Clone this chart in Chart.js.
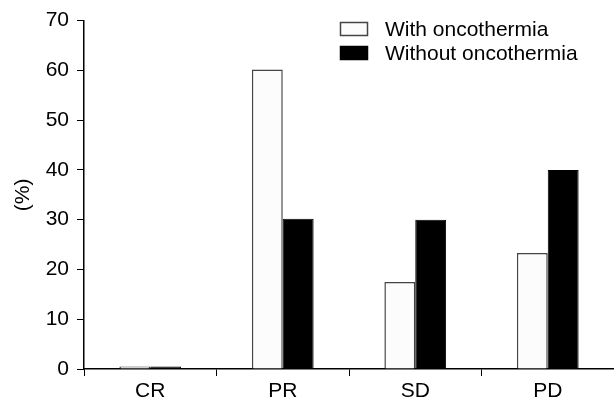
<!DOCTYPE html>
<html>
<head>
<meta charset="utf-8">
<script src="https://cdn.jsdelivr.net/npm/chart.js"></script>
<style>
  html, body { margin: 0; padding: 0; background: #fff; }
  #wrap { width: 614px; height: 403px; position: relative; }
</style>
</head>
<body>
<div id="wrap"><canvas id="responseChart"></canvas></div>
<script>
// Tumour response by group
const categories = ['CR', 'PR', 'SD', 'PD'];
const withOncothermia = [0.5, 60.2, 17.5, 23.3];
const withoutOncothermia = [0.5, 30.2, 30.0, 40.0];
const seriesLabels = ['With oncothermia', 'Without oncothermia'];
const yTicks = [0, 10, 20, 30, 40, 50, 60, 70];

const FONT = 'Arial, "Liberation Sans", sans-serif';

// Legend drawn inside the plot area, top right
const insideLegend = {
  id: 'insideLegend',
  afterDraw(chart) {
    const { ctx } = chart;
    ctx.save();
    ctx.font = '21px ' + FONT;
    ctx.textBaseline = 'middle';
    chart.data.datasets.forEach((ds, i) => {
      const y = 29 + i * 24;
      ctx.fillStyle = ds.backgroundColor;
      ctx.fillRect(340, y - 7, 28, 14);
      ctx.strokeStyle = ds.borderColor;
      ctx.lineWidth = 1.5;
      ctx.strokeRect(340.5, y - 6.5, 27, 13);
      ctx.fillStyle = '#000';
      ctx.fillText(ds.label, 385, y + 1);
    });
    ctx.restore();
  }
};

new Chart(document.getElementById('responseChart'), {
  type: 'bar',
  data: {
    labels: categories,
    datasets: [
      {
        label: seriesLabels[0],
        data: withOncothermia,
        backgroundColor: '#fcfcfc',
        borderColor: '#444',
        borderWidth: 1.5
      },
      {
        label: seriesLabels[1],
        data: withoutOncothermia,
        backgroundColor: '#000',
        borderColor: '#000',
        borderWidth: 1
      }
    ]
  },
  options: {
    responsive: true,
    maintainAspectRatio: false,
    animation: false,
    layout: { padding: { top: 5, right: 0, left: 0, bottom: 0 } },
    datasets: {
      bar: { categoryPercentage: 0.466, barPercentage: 1.0 }
    },
    scales: {
      x: {
        offset: true,
        grid: {
          offset: true,
          drawOnChartArea: false,
          drawTicks: true,
          tickLength: 7,
          color: '#000'
        },
        border: { display: true, color: '#000', width: 1.5 },
        ticks: { color: '#000', font: { family: FONT, size: 21 }, padding: 3 },
        afterFit(axis) { axis.height = 34; }
      },
      y: {
        min: 0,
        max: 70,
        afterBuildTicks(axis) { axis.ticks = yTicks.map(v => ({ value: v })); },
        grid: {
          drawOnChartArea: false,
          drawTicks: true,
          tickLength: 7,
          color: '#000'
        },
        border: { display: true, color: '#000', width: 1.5 },
        ticks: { color: '#000', font: { family: FONT, size: 21 }, padding: 8 },
        title: {
          display: true,
          text: '(%)',
          color: '#000',
          font: { family: FONT, size: 21 },
          padding: { top: 11, bottom: 0 }
        },
        afterFit(axis) { axis.width = 84; }
      }
    },
    plugins: {
      legend: { display: false },
      tooltip: { enabled: false }
    }
  },
  plugins: [insideLegend]
});
</script>
</body>
</html>
